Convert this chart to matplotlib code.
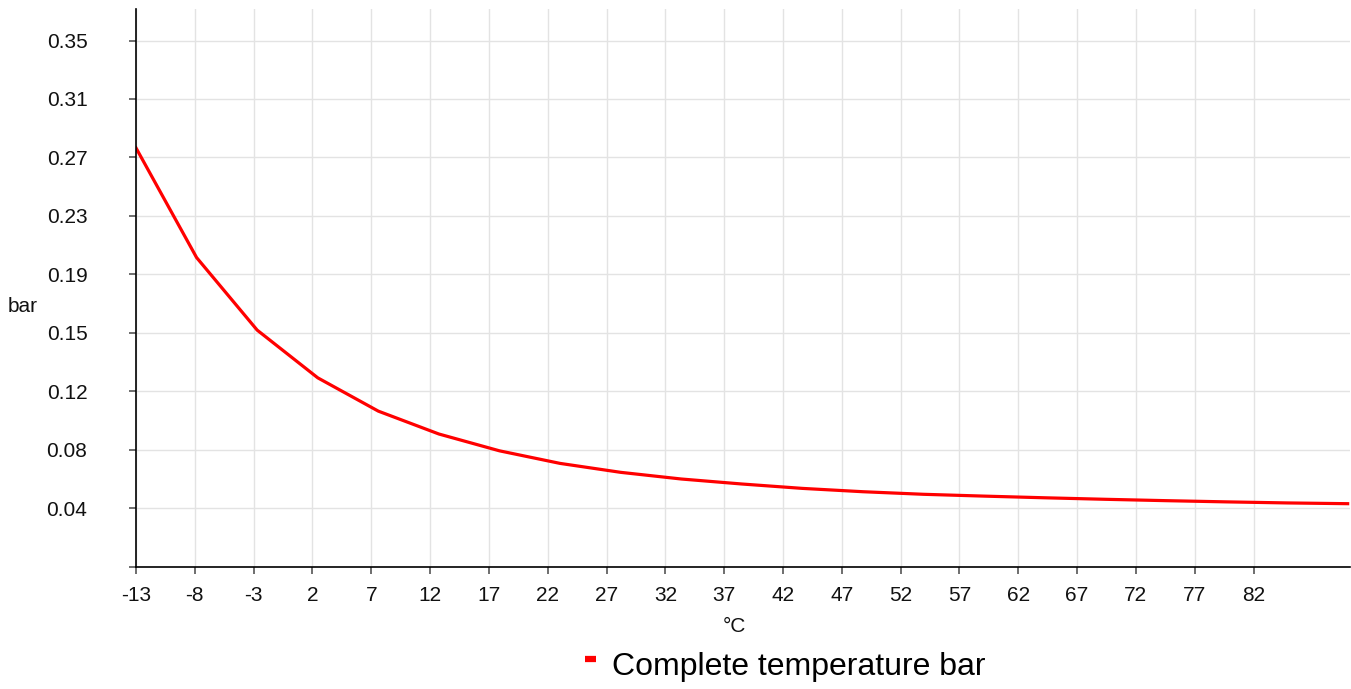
import matplotlib
matplotlib.use('Agg')
import matplotlib.pyplot as plt
from matplotlib.transforms import Affine2D

# data
temps = [-13, -7.85, -2.7, 2.45, 7.6, 12.75, 17.9, 23.05, 28.2, 33.35, 38.5,
         43.65, 48.8, 53.95, 59.1, 64.25, 69.4, 74.55, 79.7, 84.85, 90.0]
pressure = [0.2765, 0.2041, 0.1562, 0.1247, 0.1027, 0.0876, 0.0765, 0.0682,
            0.0623, 0.0579, 0.0546, 0.0517, 0.0495, 0.0478, 0.0466, 0.0455,
            0.0445, 0.0436, 0.0428, 0.0421, 0.0416]
x_ticks = [-13, -8, -3, 2, 7, 12, 17, 22, 27, 32, 37, 42, 47, 52, 57, 62, 67, 72, 77, 82]
y_step = 0.0386
y_ticks = [y_step * k for k in range(10)]
series_name = 'Complete temperature bar'

plt.rcParams['font.family'] = ['Liberation Sans', 'DejaVu Sans']

fig = plt.figure(figsize=(13.51, 6.89), dpi=100)
ax = fig.add_axes([136 / 1351, 122.3 / 689, 1214 / 1351, 557.4 / 689])

line, = ax.plot(temps, pressure, color='#ff0000', lw=2.3, label=series_name)

ax.set_xlim(-13, 90.2)
ax.set_ylim(0, 0.368)
ax.set_xticks(x_ticks)
ax.set_xticklabels([str(t) for t in x_ticks])
ax.set_yticks(y_ticks)
ax.set_yticklabels([''] + ['%.2f' % v for v in y_ticks[1:]])

ax.grid(True, color='#e3e3e3', lw=1)
ax.set_axisbelow(True)
for s in ['top', 'right']:
    ax.spines[s].set_visible(False)
for s in ['left', 'bottom']:
    ax.spines[s].set_color('black')
    ax.spines[s].set_linewidth(1.2)

ax.tick_params(axis='both', direction='out', length=5, width=1.2, color='#555555',
               labelsize=15, labelcolor='#111111')
ax.tick_params(axis='y', pad=30)
ax.tick_params(axis='x', pad=9)

ax.set_ylabel('bar', rotation=0, fontsize=15, color='#111111', va='center', ha='center')
ax.yaxis.set_label_coords(-0.093, 0.466)
ax.set_xlabel('°C', fontsize=15, color='#111111', va='center')
ax.xaxis.set_label_coords(0.493, -0.108)

leg = fig.legend(handles=[line], loc='center', bbox_to_anchor=(785 / 1351, 1 - 667 / 689),
                 frameon=False, fontsize=23, handlelength=0.35, handletextpad=0.5)
h = leg.legend_handles[0]
h.set_linewidth(4.5)
h.set_solid_capstyle('butt')
# marker sits a bit above the text centre in the original
h.set_transform(h.get_transform() + Affine2D().translate(0, 5))

plt.savefig('out.png', dpi=100, facecolor='w')
plt.close()
